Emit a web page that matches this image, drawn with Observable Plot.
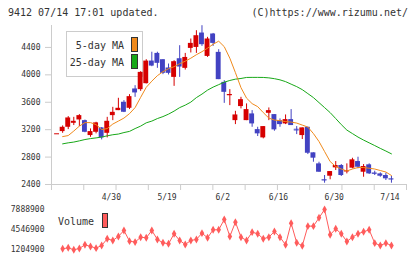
<!DOCTYPE html>
<html><head><meta charset="utf-8">
<script src="https://cdn.jsdelivr.net/npm/d3@7"></script>
<script src="https://cdn.jsdelivr.net/npm/@observablehq/plot@0.6"></script>
<style>
html,body{margin:0;padding:0;background:#fff;}
#wrap{position:relative;width:420px;height:259px;overflow:hidden;font-family:"DejaVu Sans Mono",monospace;color:#333;}
.t{position:absolute;font-size:10px;line-height:12px;white-space:nowrap;}
.sw{position:absolute;box-sizing:border-box;border:1px solid #333;}
</style></head><body><div id="wrap">
<div class="t" style="left:8px;top:7px;">9412 07/14 17:01 updated.</div>
<div class="t" style="right:12px;top:7px;">(C)https://www.rizumu.net/</div>
<div style="position:absolute;left:66px;top:31px;width:77px;height:46px;box-sizing:border-box;border:1px solid #ccc;background:#fff;"></div>
<div class="t" style="right:296px;top:40px;">5-day MA</div>
<div class="t" style="right:296px;top:57px;">25-day MA</div>
<div class="sw" style="left:131px;top:37px;width:7px;height:15px;background:#f08a1c;"></div>
<div class="sw" style="left:131px;top:54px;width:7px;height:15px;background:#18a818;"></div>
<div class="t" style="left:58px;top:216px;">Volume</div>
<div class="sw" style="left:102px;top:213px;width:6px;height:15px;background:#ff5c5c;"></div>
</div>
<script>
// tick labels
const labelIdx = [10, 20, 30, 40, 50, 60];
const dateLabels = ["4/30", "5/19", "6/2", "6/16", "6/30", "7/14"];
const priceTicks = [2400, 2800, 3200, 3600, 4000, 4400];

// candles (index 0..60)
const openP = [3140,3172,3235,3293,3342,3332,3114,3162,3226,3147,3405,3478,3600,3512,3794,3784,3871,4201,4313,4221,4100,3963,4235,4095,4386,4400,4610,4269,4596,4328,3890,3697,3332,3537,3332,3430,3201,3080,3439,3420,3332,3284,3347,3206,3114,3235,2862,2701,2473,2521,2643,2677,2590,2638,2735,2579,2687,2569,2555,2531,2485];
const highP = [3140,3255,3391,3380,3420,3340,3211,3308,3230,3380,3526,3658,3624,3711,3842,4046,4221,4330,4330,4221,4158,4206,4425,4313,4523,4644,4717,4547,4604,4367,3915,3784,3468,3672,3576,3478,3235,3245,3517,3420,3357,3415,3493,3245,3226,3235,2862,2725,2531,2589,2735,2691,2701,2783,2798,2691,2701,2594,2570,2565,2517];
const lowP = [3140,3147,3201,3260,3245,3155,3089,3139,3051,3080,3332,3478,3449,3493,3672,3759,3867,4119,4095,4003,3998,3832,3963,4070,4319,4313,4415,4254,4415,3930,3584,3551,3274,3503,3332,3235,3100,3066,3332,3177,3235,3274,3260,3128,3056,2837,2725,2579,2419,2469,2604,2517,2555,2629,2629,2506,2546,2531,2506,2458,2419];
const closeP = [3140,3235,3371,3322,3405,3162,3172,3299,3080,3322,3453,3512,3454,3682,3736,4036,4201,4128,4168,4022,4022,4192,4114,4254,4459,4571,4440,4523,4459,3930,3745,3711,3415,3638,3493,3284,3139,3245,3478,3197,3274,3347,3260,3196,3226,2856,2784,2579,2466,2589,2677,2531,2597,2760,2652,2662,2555,2563,2521,2483,2480];

// moving averages (index 0 has none)
const ma5 = [null,3099,3114,3180,3252,3303,3303,3274,3201,3216,3282,3325,3369,3434,3522,3672,3818,3908,3988,4046,4090,4119,4163,4199,4243,4294,4338,4389,4447,4491,4411,4243,4032,3813,3660,3580,3536,3449,3369,3340,3332,3318,3311,3296,3267,3238,3143,3027,2881,2735,2662,2626,2597,2626,2648,2648,2637,2626,2604,2582,2531];
const ma25 = [null,2993,3008,3019,3037,3056,3070,3080,3092,3110,3126,3136,3158,3175,3216,3252,3300,3325,3362,3391,3427,3471,3522,3558,3602,3668,3719,3777,3821,3857,3893,3918,3937,3947,3962,3963,3963,3962,3956,3944,3927,3901,3864,3828,3784,3726,3668,3595,3522,3449,3362,3274,3194,3143,3092,3048,3008,2968,2927,2888,2847];

// volume (index 0 has none)
const volume = [null,1370000,1540000,1204900,1430000,2030000,1760000,1480000,1920000,3030000,2750000,3420000,4410000,2640000,2480000,3300000,3190000,4410000,2920000,2370000,2200000,3860000,2750000,2090000,2750000,2920000,3970000,3190000,4520000,4520000,6230000,3420000,5790000,3300000,2750000,4130000,3860000,3030000,3300000,4240000,3300000,2030000,5620000,2370000,1870000,5130000,5130000,6510000,7888900,3690000,4690000,3860000,2590000,3300000,3860000,4190000,4520000,2310000,1920000,2310000,1920000];

const upColor = "#d60000", downColor = "#4242c2";
const maColor5 = "#f08a1c", maColor25 = "#18a818", volColor = "#ff5c5c";
const axisColor = "#cccccc";

const candles = openP.map((o, i) => ({i, o, h: highP[i], l: lowP[i], c: closeP[i]}));
const colOf = d => d.c >= d.o ? upColor : downColor;
const ma5Data = ma5.map((v, i) => ({i, v})).filter(d => d.v != null);
const ma25Data = ma25.map((v, i) => ({i, v})).filter(d => d.v != null);
const volData = volume.map((v, i) => ({i, v})).filter(d => d.v != null);

const xDomain = [-1, 62.7];
const xTicks = d3.range(12).map(k => xDomain[0] + k * (xDomain[1] - xDomain[0]) / 11);
const yDomain = [2400, 4720];
const half = 0.44;

const baseStyle = {background: "transparent", fontFamily: "DejaVu Sans Mono", fontSize: "8px", color: "#333", overflow: "visible"};

const price = Plot.plot({
  width: 420, height: 200,
  marginTop: 25, marginBottom: 16, marginLeft: 51, marginRight: 14,
  style: baseStyle,
  x: {type: "linear", domain: xDomain, label: null},
  y: {domain: yDomain, label: null},
  color: {type: "identity"},
  marks: [
    Plot.ruleX([xDomain[0]], {stroke: axisColor}),
    Plot.ruleY([yDomain[0]], {stroke: axisColor}),
    Plot.axisY({ticks: priceTicks, tickSize: 6, tickPadding: 5, stroke: axisColor, fill: "#333", label: null, tickFormat: d => String(d)}),
    Plot.axisX({ticks: xTicks, tickSize: 6, stroke: axisColor, tickFormat: () => "", label: null}),
    Plot.axisX({ticks: labelIdx, tickSize: 0, tickPadding: 10, dx: -1.5, fill: "#333", label: null,
      tickFormat: i => dateLabels[labelIdx.indexOf(i)]}),
    Plot.ruleX(candles, {x: "i", y1: "l", y2: "h", stroke: colOf, strokeWidth: 1}),
    Plot.rect(candles, {x1: d => d.i - half, x2: d => d.i + half, y1: d => Math.min(d.o, d.c), y2: d => Math.max(d.o, d.c), fill: colOf}),
    Plot.ruleY(candles.filter(d => Math.abs(d.o - d.c) < 15), {y: "c", x1: d => d.i - half, x2: d => d.i + half, stroke: colOf}),
    Plot.line(ma25Data, {x: "i", y: "v", stroke: maColor25, strokeWidth: 1}),
    Plot.line(ma5Data, {x: "i", y: "v", stroke: maColor5, strokeWidth: 1})
  ]
});
price.style.position = "absolute";
price.style.left = "0px";
price.style.top = "0px";

const vmin = d3.min(volume), vmax = d3.max(volume);
const vol = Plot.plot({
  width: 420, height: 59,
  marginTop: 9, marginBottom: 9.7, marginLeft: 51, marginRight: 14,
  style: baseStyle,
  x: {type: "linear", domain: xDomain, axis: null, label: null},
  y: {domain: [vmin, vmax], label: null},
  marks: [
    Plot.axisY({ticks: [vmin, (vmin + vmax) / 2, vmax], tickSize: 0, tickPadding: 7, fill: "#333", label: null, tickFormat: d => String(Math.round(d))}),
    Plot.line(volData, {x: "i", y: "v", stroke: volColor, strokeWidth: 1}),
    Plot.dot(volData, {x: "i", y: "v", symbol: "diamond", r: 2.4, fill: volColor, stroke: "none"})
  ]
});
vol.style.position = "absolute";
vol.style.left = "0px";
vol.style.top = "200px";

const wrap = document.getElementById("wrap");
wrap.appendChild(price);
wrap.appendChild(vol);
</script>
</body></html>
